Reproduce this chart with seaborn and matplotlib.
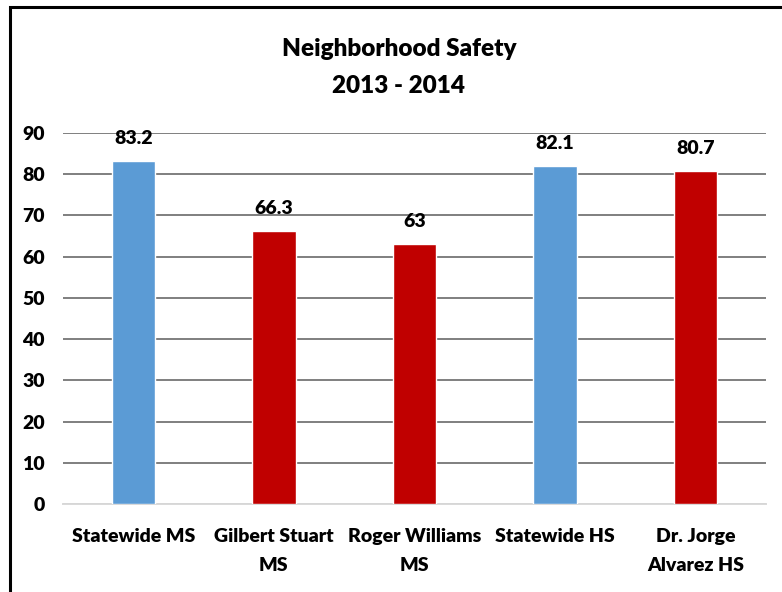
import matplotlib
matplotlib.use("Agg")
import matplotlib.pyplot as plt
import pandas as pd
import seaborn as sns
from matplotlib.patches import Rectangle

# chart data
schools = ["Statewide MS", "Gilbert Stuart\nMS", "Roger Williams\nMS",
           "Statewide HS", "Dr. Jorge\nAlvarez HS"]
scores = [83.2, 66.3, 63, 82.1, 80.7]
bar_colors = ["#5B9BD5", "#C00000", "#C00000", "#5B9BD5", "#C00000"]
value_labels = ["83.2", "66.3", "63", "82.1", "80.7"]
y_ticks = [0, 10, 20, 30, 40, 50, 60, 70, 80, 90]

sns.set_style("white")
plt.rcParams['font.family'] = ['Lato', 'DejaVu Sans']
plt.rcParams['text.color'] = 'black'

WEIGHT = "heavy"
FS = 14

df = pd.DataFrame({"school": schools, "score": scores})

fig = plt.figure(figsize=(7.82, 5.92), dpi=100)
ax = fig.add_axes([0.0806, 0.1486, 0.8989, 0.6267])

sns.barplot(data=df, x="school", y="score", hue="school",
            palette=bar_colors, width=0.31, legend=False,
            saturation=1, ax=ax, zorder=3)

ax.set_ylim(0, 90)
ax.set_xlim(-0.5, len(schools) - 0.5)
ax.set_yticks(y_ticks)
ax.yaxis.grid(True, color="#7F7F7F", linewidth=1.4, zorder=0)
ax.set_axisbelow(True)
for s in ["top", "right", "left"]:
    ax.spines[s].set_visible(False)
ax.spines["bottom"].set_color("#D9D9D9")
ax.spines["bottom"].set_linewidth(1.4)
ax.tick_params(axis="both", length=0, labelsize=FS, labelcolor="black")
ax.tick_params(axis="y", pad=13)
ax.tick_params(axis="x", pad=17)
for lbl in ax.get_xticklabels() + ax.get_yticklabels():
    lbl.set_fontweight(WEIGHT)
    lbl.set_linespacing(1.85)
ax.set_xlabel("")
ax.set_ylabel("")

for i, (v, t) in enumerate(zip(scores, value_labels)):
    ax.annotate(t, (i, v), xytext=(0, 10), textcoords="offset points",
                ha="center", va="bottom", fontsize=FS, fontweight=WEIGHT)

fig.text(0.51, 0.918, "Neighborhood Safety", ha="center", va="center",
         fontsize=17.5, fontweight=WEIGHT)
fig.text(0.51, 0.854, "2013 - 2014", ha="center", va="center",
         fontsize=17.5, fontweight=WEIGHT)

# chart border (runs off the right/bottom edge in the reference)
fig.patches.append(Rectangle((0.0125, -0.05), 1.1, 1.038, transform=fig.transFigure,
                             fill=False, edgecolor="black", linewidth=2.2))

fig.savefig("out.png", dpi=100)
